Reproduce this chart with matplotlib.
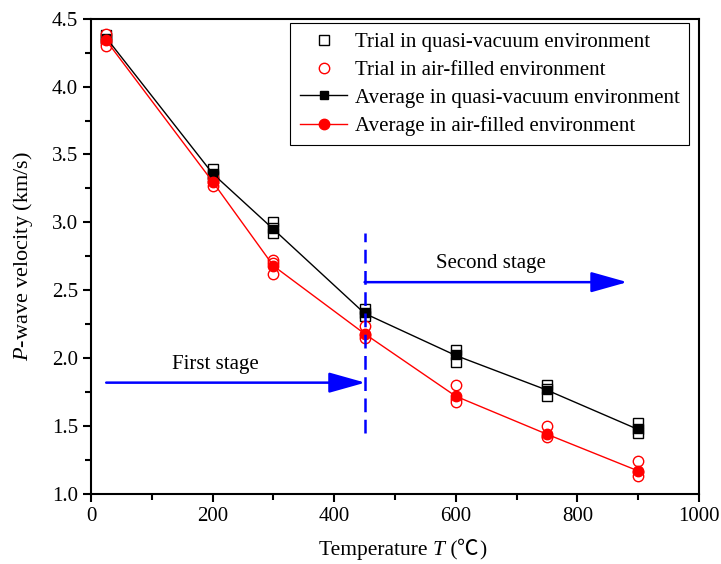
import matplotlib
matplotlib.use("Agg")
import matplotlib.pyplot as plt
from matplotlib.ticker import MultipleLocator, FormatStrFormatter
from matplotlib.offsetbox import TextArea, HPacker, AnchoredOffsetbox

temps = [25, 200, 300, 450, 600, 750, 900]
vac_trial1 = [4.38, 3.39, 3.00, 2.365, 2.06, 1.80, 1.525]
vac_trial2 = [4.36, 3.36, 2.96, 2.33, 2.02, 1.77, 1.475]
vac_trial3 = [4.34, 3.34, 2.92, 2.31, 1.975, 1.725, 1.45]
air_trial1 = [4.39, 3.33, 2.725, 2.24, 1.80, 1.50, 1.24]
air_trial2 = [4.33, 3.30, 2.70, 2.17, 1.70, 1.43, 1.16]
air_trial3 = [4.30, 3.27, 2.62, 2.15, 1.68, 1.42, 1.13]
vac_avg = [4.36, 3.36, 2.95, 2.33, 2.02, 1.765, 1.475]
air_avg = [4.34, 3.30, 2.68, 2.18, 1.72, 1.44, 1.17]

legend_labels = ['Trial in quasi-vacuum environment',
                 'Trial in air-filled environment',
                 'Average in quasi-vacuum environment',
                 'Average in air-filled environment']

plt.rcParams['font.family'] = ['Liberation Serif', 'Noto Sans CJK SC', 'DejaVu Serif']
plt.rcParams['mathtext.fontset'] = 'custom'
plt.rcParams['mathtext.rm'] = 'Liberation Serif'
plt.rcParams['mathtext.it'] = 'Liberation Serif:italic'

fig = plt.figure(figsize=(7.21, 5.64), dpi=100)
ax = fig.add_axes([91/721, 1-494/564, (699-91)/721, (494-18.7)/564])

for tr in (vac_trial1, vac_trial2, vac_trial3):
    ax.plot(temps, tr, linestyle='none', marker='s', ms=6.5, mfc='white',
            mec='black', mew=1.0, zorder=3)
for tr in (air_trial1, air_trial2, air_trial3):
    ax.plot(temps, tr, linestyle='none', marker='o', ms=7.5, mfc='white',
            mec='red', mew=1.0, zorder=3)

ax.plot(temps, vac_avg, color='black', lw=1.0, marker='s', ms=6, mfc='black',
        mec='black', zorder=4)
ax.plot(temps, air_avg, color='red', lw=1.0, marker='o', ms=7.5, mfc='red',
        mec='red', zorder=4)

h1, = ax.plot([], [], linestyle='none', marker='s', ms=6.5, mfc='white', mec='black', mew=1.0)
h2, = ax.plot([], [], linestyle='none', marker='o', ms=7.5, mfc='white', mec='red', mew=1.0)
h3, = ax.plot([], [], color='black', lw=1.0, marker='s', ms=6, mfc='black', mec='black')
h4, = ax.plot([], [], color='red', lw=1.0, marker='o', ms=7.5, mfc='red', mec='red')
leg = ax.legend([h1, h2, h3, h4], legend_labels,
                loc='upper right', fontsize=15, frameon=True, fancybox=False,
                edgecolor='black', framealpha=1, handlelength=2.3,
                handletextpad=0.35, borderpad=0.45, labelspacing=0.4,
                borderaxespad=0, bbox_to_anchor=(0.9836, 0.991))
leg.get_frame().set_linewidth(0.8)

# stage annotations
ax.plot([450, 450], [1.45, 2.92], color='blue', lw=1.8, linestyle=(0, (5.5, 3)), zorder=5)
ax.annotate('', xy=(451, 1.82), xytext=(25, 1.82),
            arrowprops=dict(arrowstyle='-|>,head_length=1.6,head_width=0.45',
                            color='blue', lw=1.8, shrinkA=0, shrinkB=0,
                            mutation_scale=14), zorder=5)
ax.annotate('', xy=(882, 2.56), xytext=(450, 2.56),
            arrowprops=dict(arrowstyle='-|>,head_length=1.6,head_width=0.45',
                            color='blue', lw=1.8, shrinkA=0, shrinkB=0,
                            mutation_scale=14), zorder=5)
ax.text(204, 1.955, 'First stage', fontsize=15, ha='center', va='center')
ax.text(657, 2.70, 'Second stage', fontsize=15, ha='center', va='center')

ax.set_xlim(0, 1000)
ax.set_ylim(1.0, 4.5)
ax.xaxis.set_major_locator(MultipleLocator(200))
ax.xaxis.set_minor_locator(MultipleLocator(100))
ax.yaxis.set_major_locator(MultipleLocator(0.5))
ax.yaxis.set_minor_locator(MultipleLocator(0.25))
ax.tick_params(which='major', direction='out', length=6, width=1.5, labelsize=15)
ax.tick_params(which='minor', direction='out', length=4, width=1.5)
ax.yaxis.set_major_formatter(FormatStrFormatter('%.1f'))
for s in ax.spines.values():
    s.set_linewidth(1.5)

# x label with italic T and the degree-Celsius sign
fs_lab = 15.5
xl = HPacker(children=[
    TextArea('Temperature ', textprops=dict(fontsize=fs_lab)),
    TextArea('T', textprops=dict(fontsize=fs_lab, style='italic')),
    TextArea(' (', textprops=dict(fontsize=fs_lab)),
    TextArea('℃', textprops=dict(fontsize=fs_lab, family=['Noto Sans CJK SC'])),
    TextArea(')', textprops=dict(fontsize=fs_lab)),
], align='baseline', pad=0, sep=0)
ab = AnchoredOffsetbox(loc='center', child=xl, frameon=False, pad=0, borderpad=0,
                       bbox_to_anchor=(402.5/721, 1-549/564),
                       bbox_transform=fig.transFigure)
fig.add_artist(ab)

ax.set_ylabel('$\\mathit{P}$-wave velocity (km/s)', fontsize=16, labelpad=12)

fig.savefig('out.png', dpi=100)
